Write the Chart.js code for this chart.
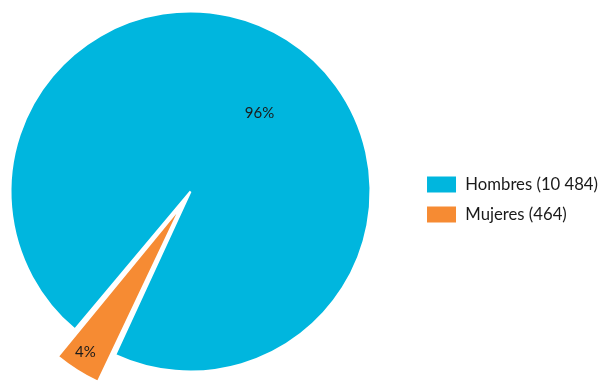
<!DOCTYPE html>
<html>
<head>
<meta charset="utf-8">
<script src="https://cdn.jsdelivr.net/npm/chart.js@4/dist/chart.umd.min.js"></script>
<style>
    html, body { margin: 0; padding: 0; background: #fff; overflow: hidden; }
    body { width: 602px; height: 381px; position: relative; }
    /* canvas a bit wider than the page so the pie sits left of centre */
    #wrap { width: 641px; height: 381px; position: absolute; left: -33px; top: 0; }
</style>
</head>
<body>
<div id="wrap"><canvas id="pieChart"></canvas></div>
<script>
// --- Data ---
const categories = ['Hombres', 'Mujeres'];
const counts = [10484, 464];
const colors = ['#00b6de', '#f68b33'];
const sliceOffsets = [0, 73]; // Mujeres pulled out of the pie

const FONT = 'Lato, "Open Sans", sans-serif';
const total = counts.reduce((a, b) => a + b, 0);

// legend text like "Hombres (10 484)"
function fmtCount(n) {
    return n.toString().replace(/\B(?=(\d{3})+(?!\d))/g, ' ');
}

// --- Percent labels on the slices ---
// [radius fraction, angle nudge in degrees]
const labelPlacement = [[0.58, 9], [0.89, 1]];

const pctLabels = {
    id: 'pctLabels',
    afterDatasetsDraw(chart) {
        const ctx = chart.ctx;
        const meta = chart.getDatasetMeta(0);
        ctx.save();
        ctx.font = '15px ' + FONT;
        ctx.fillStyle = '#1a1a1a';
        ctx.textAlign = 'center';
        ctx.textBaseline = 'middle';
        meta.data.forEach((arc, i) => {
            const p = arc.getProps(['x', 'y', 'startAngle', 'endAngle', 'outerRadius', 'circumference']);
            const mid = (p.startAngle + p.endAngle) / 2;
            // same shift the arc element applies for its offset
            const off = sliceOffsets[i] / 4;
            const fix = 1 - Math.sin(Math.min(Math.PI, p.circumference));
            const shift = off + off * fix;
            const a = mid + labelPlacement[i][1] * Math.PI / 180;
            const r = p.outerRadius * labelPlacement[i][0];
            const x = p.x + Math.cos(mid) * shift + Math.cos(a) * r;
            const y = p.y + Math.sin(mid) * shift + Math.sin(a) * r;
            ctx.fillText(Math.round(counts[i] / total * 100) + '%', x, y);
        });
        ctx.restore();
    }
};

// --- Chart ---
const ctx = document.getElementById('pieChart').getContext('2d');
new Chart(ctx, {
    type: 'pie',
    data: {
        labels: categories.map((c, i) => `${c} (${fmtCount(counts[i])})`),
        datasets: [{
            data: counts,
            backgroundColor: colors,
            borderColor: '#ffffff',
            borderWidth: 2,
            offset: sliceOffsets,
            hoverOffset: 0,
            clip: false
        }]
    },
    options: {
        responsive: true,
        maintainAspectRatio: false,
        animation: false,
        rotation: 220,
        radius: 180,
        layout: { padding: { top: 2 } },
        plugins: {
            legend: {
                position: 'right',
                // empty title only to push the items down a little
                title: { display: true, text: '', font: { size: 10, lineHeight: 1 }, padding: 3 },
                labels: {
                    boxWidth: 31,
                    boxHeight: 18,
                    padding: 12,
                    color: '#1a1a1a',
                    font: { family: FONT, size: 16.7 }
                }
            },
            tooltip: { enabled: false }
        }
    },
    plugins: [pctLabels]
});
</script>
</body>
</html>
